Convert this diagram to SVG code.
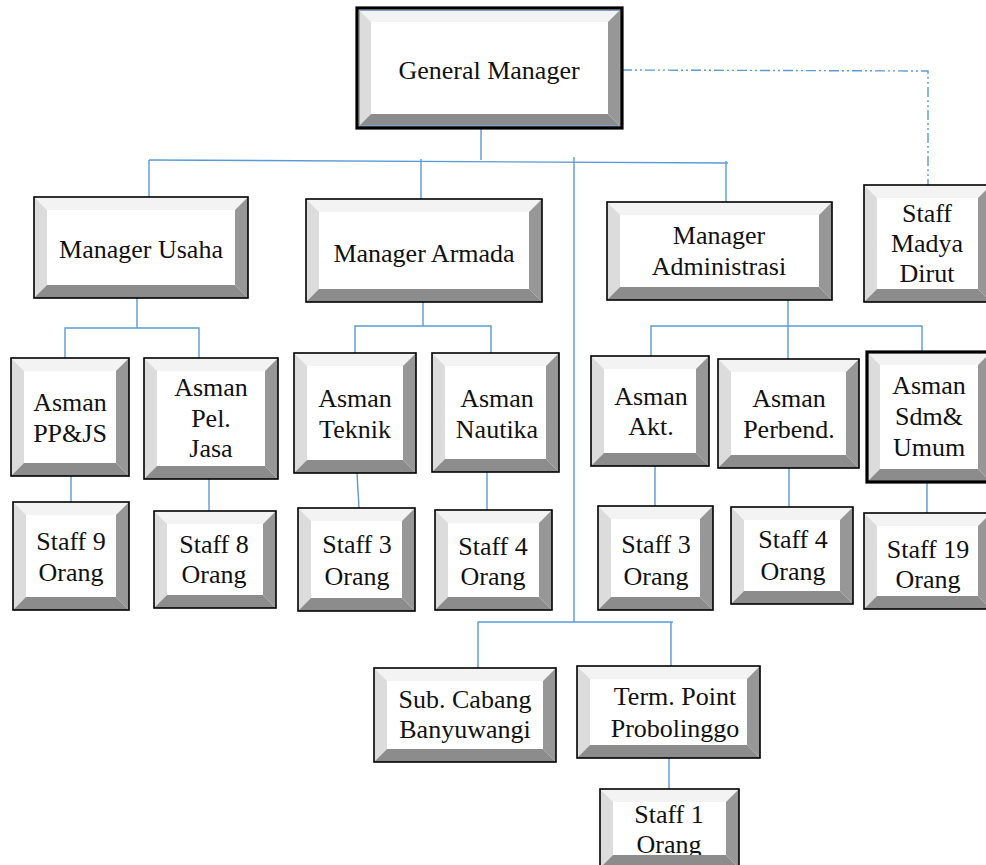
<svg xmlns="http://www.w3.org/2000/svg" width="986" height="865" viewBox="0 0 986 865">
<style>
.bt{fill:#F3F3F3}
.bl{fill:#DCDCDC}
.br{fill:#979797}
.bb{fill:#8C8C8C}
.face{fill:#FFFFFF}
.frame{fill:none;stroke:#000;stroke-width:1.6}
.thick{fill:none;stroke:#000;stroke-width:3.2}
.inner{fill:none;stroke:#7FA3D0;stroke-width:1}
.t{font-family:"Liberation Serif","Times New Roman",serif;font-size:26px;fill:#111;text-anchor:middle}
.c{fill:none;stroke:#5B9BD5;stroke-width:1.4}
.dd{fill:none;stroke:#5B9BD5;stroke-width:1.4;stroke-dasharray:10 3 2 3 2 3}
</style>
<rect width="986" height="865" fill="#fff"/>

<g id="connectors">
<line class="c" x1="481" y1="128" x2="481" y2="160"/>
<line class="c" x1="149" y1="160" x2="728" y2="163"/>
<line class="c" x1="149" y1="160" x2="149" y2="197"/>
<line class="c" x1="421" y1="159" x2="421" y2="199"/>
<line class="c" x1="574" y1="157" x2="574" y2="622"/>
<line class="c" x1="726" y1="161" x2="726" y2="202"/>
<polyline class="dd" points="622,70 928,71 928,185"/>
<line class="c" x1="137" y1="298" x2="137" y2="328"/>
<polyline class="c" points="65,358 65,328 199,328 199,358"/>
<line class="c" x1="71" y1="476" x2="71" y2="502"/>
<line class="c" x1="209" y1="479" x2="209" y2="511"/>
<line class="c" x1="423" y1="302" x2="423" y2="326"/>
<polyline class="c" points="355,353 355,326 491,326 491,353"/>
<line class="c" x1="357" y1="473" x2="359" y2="508"/>
<line class="c" x1="487" y1="472" x2="487" y2="510"/>
<line class="c" x1="788" y1="300" x2="788" y2="359"/>
<polyline class="c" points="651,356 651,326 922,326 922,352"/>
<line class="c" x1="655" y1="466" x2="655" y2="506"/>
<line class="c" x1="789" y1="468" x2="789" y2="507"/>
<line class="c" x1="927" y1="482" x2="927" y2="513"/>
<polyline class="c" points="478,668 478,622 673,622"/>
<line class="c" x1="671" y1="622" x2="671" y2="666"/>
<line class="c" x1="669" y1="758" x2="669" y2="789"/>
</g>

<g id="general-manager">
<polygon class="bt" points="357,8 622,8 608,22 371,22"/>
<polygon class="bl" points="357,8 371,22 371,114 357,128"/>
<polygon class="br" points="622,8 622,128 608,114 608,22"/>
<polygon class="bb" points="357,128 371,114 608,114 622,128"/>
<rect class="face" x="371" y="22" width="237" height="92"/>
<rect class="inner" x="359.5" y="10.5" width="260" height="115"/>
<rect class="thick" x="357" y="8" width="265" height="120"/>
<text class="t" x="489" y="79">General Manager</text>
</g>

<g id="manager-usaha">
<polygon class="bt" points="34,197 248,197 235,210 47,210"/>
<polygon class="bl" points="34,197 47,210 47,285 34,298"/>
<polygon class="br" points="248,197 248,298 235,285 235,210"/>
<polygon class="bb" points="34,298 47,285 235,285 248,298"/>
<rect class="face" x="47" y="210" width="188" height="75"/>
<rect class="frame" x="34" y="197" width="214" height="101"/>
<text class="t" x="141" y="258">Manager Usaha</text>
</g>

<g id="manager-armada">
<polygon class="bt" points="306,199 542,199 529,212 319,212"/>
<polygon class="bl" points="306,199 319,212 319,289 306,302"/>
<polygon class="br" points="542,199 542,302 529,289 529,212"/>
<polygon class="bb" points="306,302 319,289 529,289 542,302"/>
<rect class="face" x="319" y="212" width="210" height="77"/>
<rect class="frame" x="306" y="199" width="236" height="103"/>
<text class="t" x="424" y="262">Manager Armada</text>
</g>

<g id="manager-administrasi">
<polygon class="bt" points="607,202 832,202 819,215 620,215"/>
<polygon class="bl" points="607,202 620,215 620,287 607,300"/>
<polygon class="br" points="832,202 832,300 819,287 819,215"/>
<polygon class="bb" points="607,300 620,287 819,287 832,300"/>
<rect class="face" x="620" y="215" width="199" height="72"/>
<rect class="frame" x="607" y="202" width="225" height="98"/>
<text class="t" x="719" y="244">Manager</text>
<text class="t" x="719" y="275">Administrasi</text>
</g>

<g id="staff-madya-dirut">
<polygon class="bt" points="864,185 991,185 978,198 877,198"/>
<polygon class="bl" points="864,185 877,198 877,289 864,302"/>
<polygon class="br" points="991,185 991,302 978,289 978,198"/>
<polygon class="bb" points="864,302 877,289 978,289 991,302"/>
<rect class="face" x="877" y="198" width="101" height="91"/>
<rect class="frame" x="864" y="185" width="127" height="117"/>
<text class="t" x="927" y="222">Staff</text>
<text class="t" x="927" y="252">Madya</text>
<text class="t" x="927" y="282">Dirut</text>
</g>

<g id="asman-ppjs">
<polygon class="bt" points="11,358 129,358 116,371 24,371"/>
<polygon class="bl" points="11,358 24,371 24,463 11,476"/>
<polygon class="br" points="129,358 129,476 116,463 116,371"/>
<polygon class="bb" points="11,476 24,463 116,463 129,476"/>
<rect class="face" x="24" y="371" width="92" height="92"/>
<rect class="frame" x="11" y="358" width="118" height="118"/>
<text class="t" x="70" y="411">Asman</text>
<text class="t" x="70" y="442">PP&amp;JS</text>
</g>

<g id="asman-pel-jasa">
<polygon class="bt" points="144,358 278,358 265,371 157,371"/>
<polygon class="bl" points="144,358 157,371 157,466 144,479"/>
<polygon class="br" points="278,358 278,479 265,466 265,371"/>
<polygon class="bb" points="144,479 157,466 265,466 278,479"/>
<rect class="face" x="157" y="371" width="108" height="95"/>
<rect class="frame" x="144" y="358" width="134" height="121"/>
<text class="t" x="211" y="396">Asman</text>
<text class="t" x="211" y="427">Pel.</text>
<text class="t" x="211" y="457">Jasa</text>
</g>

<g id="asman-teknik">
<polygon class="bt" points="294,353 416,353 403,366 307,366"/>
<polygon class="bl" points="294,353 307,366 307,460 294,473"/>
<polygon class="br" points="416,353 416,473 403,460 403,366"/>
<polygon class="bb" points="294,473 307,460 403,460 416,473"/>
<rect class="face" x="307" y="366" width="96" height="94"/>
<rect class="frame" x="294" y="353" width="122" height="120"/>
<text class="t" x="355" y="407">Asman</text>
<text class="t" x="355" y="438">Teknik</text>
</g>

<g id="asman-nautika">
<polygon class="bt" points="432,353 559,353 546,366 445,366"/>
<polygon class="bl" points="432,353 445,366 445,459 432,472"/>
<polygon class="br" points="559,353 559,472 546,459 546,366"/>
<polygon class="bb" points="432,472 445,459 546,459 559,472"/>
<rect class="face" x="445" y="366" width="101" height="93"/>
<rect class="frame" x="432" y="353" width="127" height="119"/>
<text class="t" x="497" y="407">Asman</text>
<text class="t" x="497" y="438">Nautika</text>
</g>

<g id="asman-akt">
<polygon class="bt" points="591,356 709,356 696,369 604,369"/>
<polygon class="bl" points="591,356 604,369 604,453 591,466"/>
<polygon class="br" points="709,356 709,466 696,453 696,369"/>
<polygon class="bb" points="591,466 604,453 696,453 709,466"/>
<rect class="face" x="604" y="369" width="92" height="84"/>
<rect class="frame" x="591" y="356" width="118" height="110"/>
<text class="t" x="651" y="405">Asman</text>
<text class="t" x="651" y="435">Akt.</text>
</g>

<g id="asman-perbend">
<polygon class="bt" points="718,359 859,359 846,372 731,372"/>
<polygon class="bl" points="718,359 731,372 731,455 718,468"/>
<polygon class="br" points="859,359 859,468 846,455 846,372"/>
<polygon class="bb" points="718,468 731,455 846,455 859,468"/>
<rect class="face" x="731" y="372" width="115" height="83"/>
<rect class="frame" x="718" y="359" width="141" height="109"/>
<text class="t" x="789" y="407">Asman</text>
<text class="t" x="789" y="438">Perbend.</text>
</g>

<g id="asman-sdm-umum">
<polygon class="bt" points="867,352 991,352 978,365 880,365"/>
<polygon class="bl" points="867,352 880,365 880,469 867,482"/>
<polygon class="br" points="991,352 991,482 978,469 978,365"/>
<polygon class="bb" points="867,482 880,469 978,469 991,482"/>
<rect class="face" x="880" y="365" width="98" height="104"/>
<rect class="thick" x="867" y="352" width="124" height="130"/>
<text class="t" x="929" y="394">Asman</text>
<text class="t" x="929" y="425">Sdm&amp;</text>
<text class="t" x="929" y="456">Umum</text>
</g>

<g id="staff-9">
<polygon class="bt" points="13,502 129,502 116,515 26,515"/>
<polygon class="bl" points="13,502 26,515 26,597 13,610"/>
<polygon class="br" points="129,502 129,610 116,597 116,515"/>
<polygon class="bb" points="13,610 26,597 116,597 129,610"/>
<rect class="face" x="26" y="515" width="90" height="82"/>
<rect class="frame" x="13" y="502" width="116" height="108"/>
<text class="t" x="71" y="550">Staff 9</text>
<text class="t" x="71" y="581">Orang</text>
</g>

<g id="staff-8">
<polygon class="bt" points="154,511 276,511 263,524 167,524"/>
<polygon class="bl" points="154,511 167,524 167,595 154,608"/>
<polygon class="br" points="276,511 276,608 263,595 263,524"/>
<polygon class="bb" points="154,608 167,595 263,595 276,608"/>
<rect class="face" x="167" y="524" width="96" height="71"/>
<rect class="frame" x="154" y="511" width="122" height="97"/>
<text class="t" x="214" y="553">Staff 8</text>
<text class="t" x="214" y="583">Orang</text>
</g>

<g id="staff-3-armada">
<polygon class="bt" points="298,508 415,508 402,521 311,521"/>
<polygon class="bl" points="298,508 311,521 311,598 298,611"/>
<polygon class="br" points="415,508 415,611 402,598 402,521"/>
<polygon class="bb" points="298,611 311,598 402,598 415,611"/>
<rect class="face" x="311" y="521" width="91" height="77"/>
<rect class="frame" x="298" y="508" width="117" height="103"/>
<text class="t" x="357" y="553">Staff 3</text>
<text class="t" x="357" y="585">Orang</text>
</g>

<g id="staff-4-armada">
<polygon class="bt" points="435,510 552,510 539,523 448,523"/>
<polygon class="bl" points="435,510 448,523 448,597 435,610"/>
<polygon class="br" points="552,510 552,610 539,597 539,523"/>
<polygon class="bb" points="435,610 448,597 539,597 552,610"/>
<rect class="face" x="448" y="523" width="91" height="74"/>
<rect class="frame" x="435" y="510" width="117" height="100"/>
<text class="t" x="493" y="555">Staff 4</text>
<text class="t" x="493" y="585">Orang</text>
</g>

<g id="staff-3-admin">
<polygon class="bt" points="598,506 713,506 700,519 611,519"/>
<polygon class="bl" points="598,506 611,519 611,597 598,610"/>
<polygon class="br" points="713,506 713,610 700,597 700,519"/>
<polygon class="bb" points="598,610 611,597 700,597 713,610"/>
<rect class="face" x="611" y="519" width="89" height="78"/>
<rect class="frame" x="598" y="506" width="115" height="104"/>
<text class="t" x="656" y="553">Staff 3</text>
<text class="t" x="656" y="585">Orang</text>
</g>

<g id="staff-4-admin">
<polygon class="bt" points="731,507 853,507 840,520 744,520"/>
<polygon class="bl" points="731,507 744,520 744,591 731,604"/>
<polygon class="br" points="853,507 853,604 840,591 840,520"/>
<polygon class="bb" points="731,604 744,591 840,591 853,604"/>
<rect class="face" x="744" y="520" width="96" height="71"/>
<rect class="frame" x="731" y="507" width="122" height="97"/>
<text class="t" x="793" y="548">Staff 4</text>
<text class="t" x="793" y="580">Orang</text>
</g>

<g id="staff-19">
<polygon class="bt" points="864,513 991,513 978,526 877,526"/>
<polygon class="bl" points="864,513 877,526 877,596 864,609"/>
<polygon class="br" points="991,513 991,609 978,596 978,526"/>
<polygon class="bb" points="864,609 877,596 978,596 991,609"/>
<rect class="face" x="877" y="526" width="101" height="70"/>
<rect class="frame" x="864" y="513" width="127" height="96"/>
<text class="t" x="928" y="558">Staff 19</text>
<text class="t" x="928" y="588">Orang</text>
</g>

<g id="sub-cabang-banyuwangi">
<polygon class="bt" points="374,668 556,668 543,681 387,681"/>
<polygon class="bl" points="374,668 387,681 387,749 374,762"/>
<polygon class="br" points="556,668 556,762 543,749 543,681"/>
<polygon class="bb" points="374,762 387,749 543,749 556,762"/>
<rect class="face" x="387" y="681" width="156" height="68"/>
<rect class="frame" x="374" y="668" width="182" height="94"/>
<text class="t" x="465" y="708">Sub. Cabang</text>
<text class="t" x="465" y="738">Banyuwangi</text>
</g>

<g id="term-point-probolinggo">
<polygon class="bt" points="577,666 760,666 747,679 590,679"/>
<polygon class="bl" points="577,666 590,679 590,745 577,758"/>
<polygon class="br" points="760,666 760,758 747,745 747,679"/>
<polygon class="bb" points="577,758 590,745 747,745 760,758"/>
<rect class="face" x="590" y="679" width="157" height="66"/>
<rect class="frame" x="577" y="666" width="183" height="92"/>
<text class="t" x="675" y="705">Term. Point</text>
<text class="t" x="675" y="737">Probolinggo</text>
</g>

<g id="staff-1">
<polygon class="bt" points="600,789 739,789 726,802 613,802"/>
<polygon class="bl" points="600,789 613,802 613,855 600,868"/>
<polygon class="br" points="739,789 739,868 726,855 726,802"/>
<rect class="face" x="613" y="802" width="113" height="53"/>
<text class="t" x="669" y="823">Staff 1</text>
<text class="t" x="669" y="853">Orang</text>
<polygon class="bb" points="600,868 613,855 726,855 739,868"/>
<rect class="frame" x="600" y="789" width="139" height="79"/>
</g>
</svg>
